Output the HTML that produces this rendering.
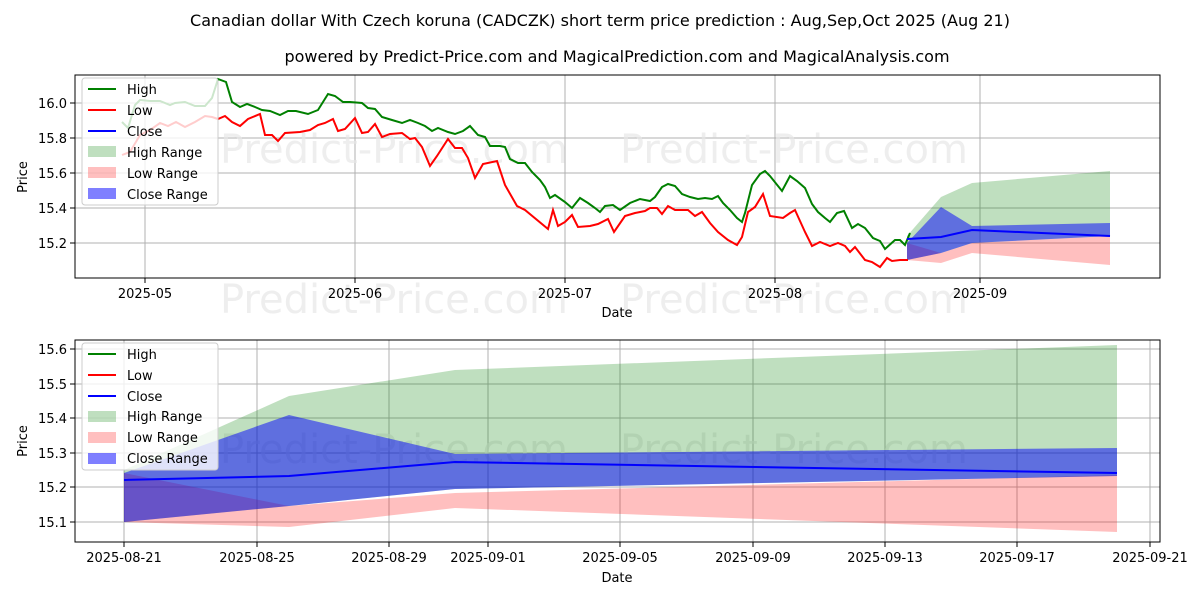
<!DOCTYPE html>
<html><head><meta charset="utf-8"><style>
body{margin:0;background:#fff;}
svg{font-family:"DejaVu Sans","Liberation Sans",sans-serif;}
</style></head><body>
<svg width="1200" height="600" viewBox="0 0 1200 600" xmlns="http://www.w3.org/2000/svg">
<rect width="1200" height="600" fill="#fff"/>
<text x="600" y="26" font-size="16" text-anchor="middle">Canadian dollar With Czech koruna (CADCZK) short term price prediction : Aug,Sep,Oct 2025 (Aug 21)</text>
<text x="617" y="62" font-size="16" text-anchor="middle">powered by Predict-Price.com and MagicalPrediction.com and MagicalAnalysis.com</text>

<!-- TOP CHART -->
<g>
<g stroke="#b0b0b0" stroke-width="1">
<line x1="145" y1="75" x2="145" y2="278"/><line x1="355" y1="75" x2="355" y2="278"/><line x1="565" y1="75" x2="565" y2="278"/><line x1="775" y1="75" x2="775" y2="278"/><line x1="980" y1="75" x2="980" y2="278"/>
<line x1="75" y1="243" x2="1160" y2="243"/><line x1="75" y1="208" x2="1160" y2="208"/><line x1="75" y1="173" x2="1160" y2="173"/><line x1="75" y1="138" x2="1160" y2="138"/><line x1="75" y1="103" x2="1160" y2="103"/>
</g>
<g font-size="40" fill="#e8e8e8" opacity="0.7"><text x="220" y="163">Predict-Price.com</text><text x="620" y="163">Predict-Price.com</text><text x="220" y="313">Predict-Price.com</text><text x="620" y="313">Predict-Price.com</text></g>
<polygon fill="green" fill-opacity="0.25" points="907,236 941,197 972,183 1110,171 1110,236 972,243 941,253 907,260"/>
<polygon fill="red" fill-opacity="0.25" points="907,243 941,253 972,243 1110,236 1110,265 972,253 941,263 907,260"/>
<polygon fill="blue" fill-opacity="0.5" points="907,243 941,207 972,226 1110,223 1110,236 972,243 941,253 907,260"/>
<polyline fill="none" stroke="green" stroke-width="2" points="122,122 128,128 135,105 140,100 150,101 160,101 170,105 175,103 185,102 195,106 205,106 212,98 218,79 226,82 232,102 240,107 247,104 255,107 262,110 270,111 280,115 288,111 296,111 308,114 318,110 328,94 335,96 343,102 350,102 362,103 368,108 375,109 382,117 392,120 402,123 410,120 418,123 425,126 432,131 438,128 448,132 455,134 463,131 470,126 478,135 485,137 490,146 500,146 505,147 510,159 518,163 525,163 532,172 540,180 545,187 550,198 555,195 565,202 572,208 580,198 588,203 595,208 600,212 605,206 613,205 620,210 630,203 640,199 650,201 655,197 662,187 668,184 675,186 682,194 690,197 698,199 705,198 712,199 718,196 723,203 730,210 737,218 742,222 745,213 752,185 760,174 765,171 770,176 782,191 790,176 797,181 805,188 812,204 818,212 825,218 830,222 837,213 844,211 852,228 858,224 865,228 873,238 880,241 885,249 895,240 900,240 905,245 910,233"/>
<polyline fill="none" stroke="red" stroke-width="2" points="122,155 130,152 140,135 150,130 160,123 168,126 176,122 185,127 195,122 205,116 212,117 218,119 225,116 232,122 240,126 248,119 260,114 265,135 272,135 278,141 285,133 300,132 310,130 318,125 325,123 333,119 338,131 345,129 355,118 362,133 368,132 375,124 382,137 390,134 402,133 410,139 415,138 422,147 430,166 437,156 448,139 455,148 462,148 468,158 475,178 483,164 497,161 505,185 517,206 525,210 548,229 553,210 558,226 565,222 572,215 578,227 590,226 598,224 608,219 614,232 625,216 635,213 645,211 650,208 657,208 662,214 668,206 675,210 688,210 695,216 702,212 710,223 718,232 728,240 737,245 742,237 748,212 755,207 763,194 770,216 783,218 790,213 795,210 805,232 812,246 820,242 830,246 838,243 845,246 850,252 855,247 865,260 872,262 880,267 887,258 892,261 900,260 908,260"/>
<polyline fill="none" stroke="blue" stroke-width="2" points="907,239 941,237 972,230 1110,236"/>
<rect x="75" y="75" width="1085" height="203" fill="none" stroke="#000" stroke-width="1"/>
<g stroke="#000"><line x1="70" y1="243" x2="75" y2="243"/><line x1="70" y1="208" x2="75" y2="208"/><line x1="70" y1="173" x2="75" y2="173"/><line x1="70" y1="138" x2="75" y2="138"/><line x1="70" y1="103" x2="75" y2="103"/>
<line x1="145" y1="278" x2="145" y2="283"/><line x1="355" y1="278" x2="355" y2="283"/><line x1="565" y1="278" x2="565" y2="283"/><line x1="775" y1="278" x2="775" y2="283"/><line x1="980" y1="278" x2="980" y2="283"/></g>
<g font-size="13" text-anchor="end"><text x="67" y="248">15.2</text><text x="67" y="213">15.4</text><text x="67" y="178">15.6</text><text x="67" y="143">15.8</text><text x="67" y="108">16.0</text></g>
<g font-size="13" text-anchor="middle"><text x="145" y="298">2025-05</text><text x="355" y="298">2025-06</text><text x="565" y="298">2025-07</text><text x="775" y="298">2025-08</text><text x="980" y="298">2025-09</text><text x="617" y="317">Date</text></g>
<text font-size="13" text-anchor="middle" transform="translate(27,177) rotate(-90)">Price</text>
<g font-size="13">
<rect x="82" y="78" width="136" height="127" rx="3" fill="#fff" fill-opacity="0.8" stroke="#ccc"/>
<line x1="88" y1="89" x2="116" y2="89" stroke="green" stroke-width="2"/><text x="127" y="94">High</text>
<line x1="88" y1="110" x2="116" y2="110" stroke="red" stroke-width="2"/><text x="127" y="115">Low</text>
<line x1="88" y1="131" x2="116" y2="131" stroke="blue" stroke-width="2"/><text x="127" y="136">Close</text>
<rect x="88" y="146" width="28" height="11" fill="green" fill-opacity="0.25"/><text x="127" y="157">High Range</text>
<rect x="88" y="167" width="28" height="11" fill="red" fill-opacity="0.25"/><text x="127" y="178">Low Range</text>
<rect x="88" y="188" width="28" height="11" fill="blue" fill-opacity="0.5"/><text x="127" y="199">Close Range</text>
</g>
</g>

<!-- BOTTOM CHART -->
<g>
<g stroke="#b0b0b0" stroke-width="1">
<line x1="124" y1="340" x2="124" y2="542"/><line x1="257" y1="340" x2="257" y2="542"/><line x1="389" y1="340" x2="389" y2="542"/><line x1="488" y1="340" x2="488" y2="542"/><line x1="620" y1="340" x2="620" y2="542"/><line x1="753" y1="340" x2="753" y2="542"/><line x1="885" y1="340" x2="885" y2="542"/><line x1="1017" y1="340" x2="1017" y2="542"/><line x1="1150" y1="340" x2="1150" y2="542"/>
<line x1="75" y1="522" x2="1160" y2="522"/><line x1="75" y1="487" x2="1160" y2="487"/><line x1="75" y1="453" x2="1160" y2="453"/><line x1="75" y1="418" x2="1160" y2="418"/><line x1="75" y1="384" x2="1160" y2="384"/><line x1="75" y1="349" x2="1160" y2="349"/>
</g>
<g font-size="40" fill="#e8e8e8" opacity="0.7"><text x="220" y="463">Predict-Price.com</text><text x="620" y="463">Predict-Price.com</text></g>
<polygon fill="green" fill-opacity="0.25" points="124,470 289,396 455,370 1117,345 1117,476 455,489 289,506 124,522"/>
<polygon fill="red" fill-opacity="0.25" points="124,473 289,506 455,493 1117,475 1117,532 455,508 289,527 124,522"/>
<polygon fill="blue" fill-opacity="0.5" points="124,473 289,415 455,454 1117,448 1117,476 455,489 289,506 124,522"/>
<polyline fill="none" stroke="blue" stroke-width="2" points="124,480 289,476 455,462 1117,473"/>
<rect x="75" y="340" width="1085" height="202" fill="none" stroke="#000" stroke-width="1"/>
<g stroke="#000"><line x1="70" y1="522" x2="75" y2="522"/><line x1="70" y1="487" x2="75" y2="487"/><line x1="70" y1="453" x2="75" y2="453"/><line x1="70" y1="418" x2="75" y2="418"/><line x1="70" y1="384" x2="75" y2="384"/><line x1="70" y1="349" x2="75" y2="349"/>
<line x1="124" y1="542" x2="124" y2="547"/><line x1="257" y1="542" x2="257" y2="547"/><line x1="389" y1="542" x2="389" y2="547"/><line x1="488" y1="542" x2="488" y2="547"/><line x1="620" y1="542" x2="620" y2="547"/><line x1="753" y1="542" x2="753" y2="547"/><line x1="885" y1="542" x2="885" y2="547"/><line x1="1017" y1="542" x2="1017" y2="547"/><line x1="1150" y1="542" x2="1150" y2="547"/></g>
<g font-size="13" text-anchor="end"><text x="67" y="527">15.1</text><text x="67" y="492">15.2</text><text x="67" y="458">15.3</text><text x="67" y="423">15.4</text><text x="67" y="389">15.5</text><text x="67" y="354">15.6</text></g>
<g font-size="13" text-anchor="middle"><text x="124" y="562">2025-08-21</text><text x="257" y="562">2025-08-25</text><text x="389" y="562">2025-08-29</text><text x="488" y="562">2025-09-01</text><text x="620" y="562">2025-09-05</text><text x="753" y="562">2025-09-09</text><text x="885" y="562">2025-09-13</text><text x="1017" y="562">2025-09-17</text><text x="1150" y="562">2025-09-21</text><text x="617" y="582">Date</text></g>
<text font-size="13" text-anchor="middle" transform="translate(27,441) rotate(-90)">Price</text>
<g font-size="13">
<rect x="82" y="343" width="136" height="127" rx="3" fill="#fff" fill-opacity="0.8" stroke="#ccc"/>
<line x1="88" y1="354" x2="116" y2="354" stroke="green" stroke-width="2"/><text x="127" y="359">High</text>
<line x1="88" y1="375" x2="116" y2="375" stroke="red" stroke-width="2"/><text x="127" y="380">Low</text>
<line x1="88" y1="396" x2="116" y2="396" stroke="blue" stroke-width="2"/><text x="127" y="401">Close</text>
<rect x="88" y="411" width="28" height="11" fill="green" fill-opacity="0.25"/><text x="127" y="421">High Range</text>
<rect x="88" y="432" width="28" height="11" fill="red" fill-opacity="0.25"/><text x="127" y="442">Low Range</text>
<rect x="88" y="453" width="28" height="11" fill="blue" fill-opacity="0.5"/><text x="127" y="463">Close Range</text>
</g>
</g>
</svg>
</body></html>
